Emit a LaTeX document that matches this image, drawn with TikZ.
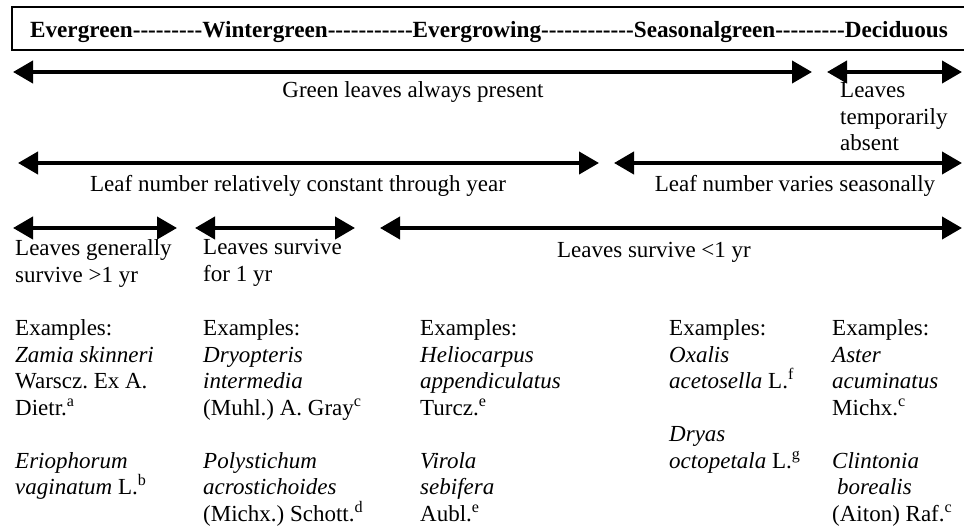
\documentclass[tikz,border=0pt]{standalone}
\usepackage{fontspec}
\setmainfont{Liberation Serif}
\usetikzlibrary{arrows.meta}
\frenchspacing

\newcommand\dashrun[1]{\foreach \k in {1,...,#1}{\mbox{-}}}

\begin{document}
\begin{tikzpicture}[x=1pt,y=1pt,yscale=-1,xscale=1,
    spanarrow/.style={line width=4pt,{Triangle[length=20pt,width=22pt]}-{Triangle[length=20pt,width=22pt]}},
    lbl/.style={font=\fontsize{23}{26.5}\selectfont,inner sep=0pt},
    blocklbl/.style={lbl,align=left,anchor=north west,execute at begin node=\strut}]
    \useasboundingbox (0,0) rectangle (964,529);

    % heading strip
    \draw [line width=2.5pt] (12,7) rectangle (968,50);
    \node (title) at (489,38) [lbl,anchor=base,font=\fontsize{23.2}{26.5}\selectfont\bfseries]
        {Evergreen\dashrun{9}Wintergreen\dashrun{11}Evergrowing\dashrun{12}Seasonalgreen\dashrun{9}Deciduous};

    % arrow ends
    \coordinate (green1) at (13,72);     \coordinate (green2) at (812,72);
    \coordinate (absent1) at (827,72);   \coordinate (absent2) at (962,72);
    \coordinate (const1) at (18,163);    \coordinate (const2) at (599,163);
    \coordinate (seas1) at (614,163);    \coordinate (seas2) at (962,163);
    \coordinate (gen1) at (13,228);      \coordinate (gen2) at (177,228);
    \coordinate (one1) at (195,228);     \coordinate (one2) at (355,228);
    \coordinate (less1) at (380,228);    \coordinate (less2) at (962,228);

    \draw [spanarrow] (green1) -- (green2);
    \draw [spanarrow] (absent1) -- (absent2);
    \draw [spanarrow] (const1) -- (const2);
    \draw [spanarrow] (seas1) -- (seas2);
    \draw [spanarrow] (gen1) -- (gen2);
    \draw [spanarrow] (one1) -- (one2);
    \draw [spanarrow] (less1) -- (less2);

    \node (greenlbl) at (413,98) [lbl,anchor=base] {Green leaves always present};
    \node (absentlbl) at (840,82.5) [blocklbl] {Leaves\\temporarily\\absent};
    \node (constlbl) at (298,192) [lbl,anchor=base] {Leaf number relatively constant through year};
    \node (seaslbl) at (795,192) [lbl,anchor=base] {Leaf number varies seasonally};
    \node (genlbl) at (15,239.5) [blocklbl] {Leaves generally\\survive >1 yr};
    \node (onelbl) at (203,239.5) [blocklbl] {Leaves survive\\for 1 yr};
    \node (lesslbl) at (654,258) [lbl,anchor=base] {Leaves survive <1 yr};

    % examples
    \node (exgen) at (15,319.5) [blocklbl] {Examples:\\\textit{Zamia skinneri}\\Warscz. Ex A.\\Dietr.\textsuperscript{a}\\[26.5pt]
        \textit{Eriophorum}\\\textit{vaginatum} L.\textsuperscript{b}};
    \node (exone) at (203,319.5) [blocklbl] {Examples:\\\textit{Dryopteris}\\\textit{intermedia}\\(Muhl.) A. Gray\textsuperscript{c}\\[26.5pt]
        \textit{Polystichum}\\\textit{acrostichoides}\\(Michx.) Schott.\textsuperscript{d}};
    \node (exless) at (420,319.5) [blocklbl] {Examples:\\\textit{Heliocarpus}\\\textit{appendiculatus}\\Turcz.\textsuperscript{e}\\[26.5pt]
        \textit{Virola}\\\textit{sebifera}\\Aubl.\textsuperscript{e}};
    \node (exseas) at (669,319.5) [blocklbl] {Examples:\\\textit{Oxalis}\\\textit{acetosella} L.\textsuperscript{f}\\[26.5pt]
        \textit{Dryas}\\\textit{octopetala} L.\textsuperscript{g}};
    \node (exdec) at (832,319.5) [blocklbl] {Examples:\\\textit{Aster}\\\textit{acuminatus}\\Michx.\textsuperscript{c}\\[26.5pt]
        \textit{Clintonia}\\\hspace{5pt}\textit{borealis}\\(Aiton) Raf.\textsuperscript{c}};
\end{tikzpicture}
\end{document}
